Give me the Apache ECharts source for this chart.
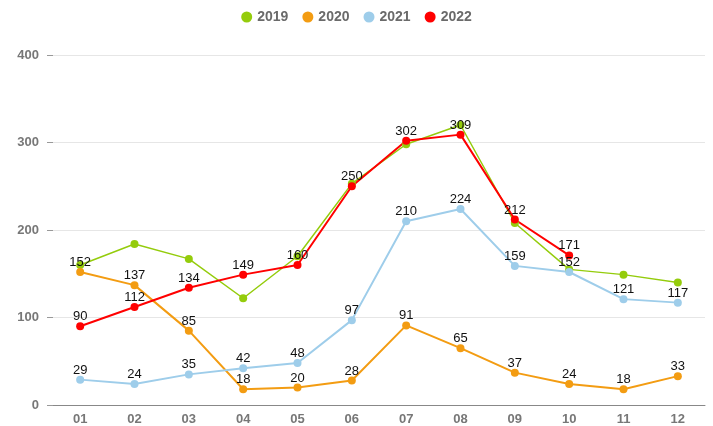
<!DOCTYPE html>
<html>
<head>
<meta charset="utf-8">
<style>
  html, body { margin: 0; padding: 0; background: #fff; }
  #chart { width: 713px; height: 426px; }
</style>
<script src="https://cdn.jsdelivr.net/npm/echarts@6/dist/echarts.min.js"></script>
</head>
<body>
<div id="chart"></div>
<script>
// Monthly values per year
const months = ['01', '02', '03', '04', '05', '06', '07', '08', '09', '10', '11', '12'];
const years = ['2019', '2020', '2021', '2022'];
const values2019 = [160, 184, 167, 122, 170, 253, 298, 320, 208, 155, 149, 140];
const values2020 = [152, 137, 85, 18, 20, 28, 91, 65, 37, 24, 18, 33];
const values2021 = [29, 24, 35, 42, 48, 97, 210, 224, 159, 152, 121, 117];
const values2022 = [90, 112, 134, 149, 160, 250, 302, 309, 212, 171];
const yTicks = [0, 100, 200, 300, 400];

const colors = ['#94cc0c', '#f39c12', '#9ecdea', '#ff0000'];
const seriesData = [values2019, values2020, values2021, values2022];
const showLabels = [false, true, true, true];
const lineWidths = [1.5, 2, 2, 2];

const chart = echarts.init(document.getElementById('chart'));
chart.setOption({
  animation: false,
  color: colors,
  textStyle: { fontFamily: 'Liberation Sans, Arial, sans-serif' },
  legend: {
    top: 5,
    left: 'center',
    icon: 'circle',
    itemWidth: 11,
    itemHeight: 11,
    itemGap: 14,
    textStyle: { color: '#6a6a6a', fontSize: 14, fontWeight: 'bold' },
    data: years
  },
  grid: { left: 53, right: 8, top: 55, bottom: 21, containLabel: false },
  xAxis: {
    type: 'category',
    data: months,
    boundaryGap: true,
    axisLine: { lineStyle: { color: '#888', width: 1 } },
    axisTick: { alignWithLabel: true, length: 5, lineStyle: { color: '#888' } },
    axisLabel: { color: '#777', fontSize: 13, fontWeight: 'bold', margin: 8 }
  },
  yAxis: {
    type: 'value',
    min: yTicks[0],
    max: yTicks[yTicks.length - 1],
    interval: yTicks[1] - yTicks[0],
    axisLine: { show: false },
    axisTick: { show: true, length: 6, lineStyle: { color: '#999' } },
    axisLabel: { color: '#777', fontSize: 13, fontWeight: 'bold', margin: 14 },
    splitLine: { lineStyle: { color: '#e6e6e6', width: 1 } }
  },
  series: years.map((name, i) => ({
    name: name,
    type: 'line',
    data: seriesData[i],
    symbol: 'circle',
    symbolSize: 8,
    lineStyle: { width: lineWidths[i], color: colors[i] },
    itemStyle: { color: colors[i] },
    label: {
      show: showLabels[i],
      position: 'top',
      distance: -1,
      color: '#111',
      fontSize: 13,
      fontFamily: 'Liberation Sans, Arial, sans-serif'
    },
    labelLayout: { hideOverlap: false }
  }))
});
</script>
</body>
</html>
